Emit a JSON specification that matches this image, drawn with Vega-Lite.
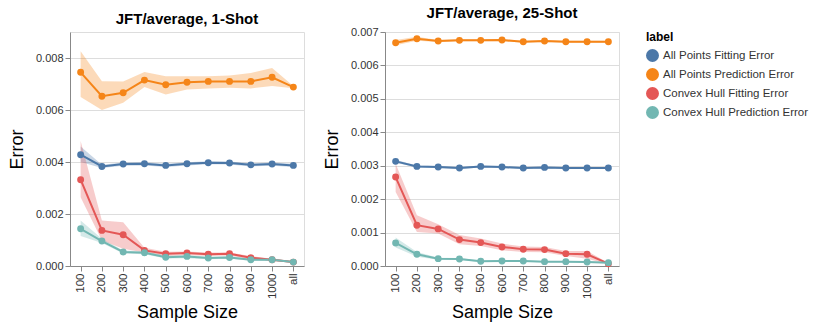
{
  "$schema": "https://vega.github.io/schema/vega-lite/v6.json",
  "padding": {"left": 7, "top": 5, "right": 5, "bottom": 0},
  "datasets": {
    "d": [
      {"panel": "1", "size": "100", "label": "All Points Fitting Error", "v": 0.00428, "lo": 0.00400, "hi": 0.00460},
      {"panel": "1", "size": "200", "label": "All Points Fitting Error", "v": 0.00383, "lo": 0.00377, "hi": 0.00389},
      {"panel": "1", "size": "300", "label": "All Points Fitting Error", "v": 0.00392, "lo": 0.00386, "hi": 0.00398},
      {"panel": "1", "size": "400", "label": "All Points Fitting Error", "v": 0.00393, "lo": 0.00387, "hi": 0.00399},
      {"panel": "1", "size": "500", "label": "All Points Fitting Error", "v": 0.00387, "lo": 0.00381, "hi": 0.00393},
      {"panel": "1", "size": "600", "label": "All Points Fitting Error", "v": 0.00393, "lo": 0.00387, "hi": 0.00399},
      {"panel": "1", "size": "700", "label": "All Points Fitting Error", "v": 0.00397, "lo": 0.00391, "hi": 0.00403},
      {"panel": "1", "size": "800", "label": "All Points Fitting Error", "v": 0.00396, "lo": 0.00390, "hi": 0.00402},
      {"panel": "1", "size": "900", "label": "All Points Fitting Error", "v": 0.00389, "lo": 0.00383, "hi": 0.00395},
      {"panel": "1", "size": "1000", "label": "All Points Fitting Error", "v": 0.00392, "lo": 0.00386, "hi": 0.00398},
      {"panel": "1", "size": "all", "label": "All Points Fitting Error", "v": 0.00387, "lo": 0.00381, "hi": 0.00393},

      {"panel": "1", "size": "100", "label": "All Points Prediction Error", "v": 0.00745, "lo": 0.00650, "hi": 0.00826},
      {"panel": "1", "size": "200", "label": "All Points Prediction Error", "v": 0.00653, "lo": 0.00600, "hi": 0.00711},
      {"panel": "1", "size": "300", "label": "All Points Prediction Error", "v": 0.00666, "lo": 0.00628, "hi": 0.00710},
      {"panel": "1", "size": "400", "label": "All Points Prediction Error", "v": 0.00715, "lo": 0.00688, "hi": 0.00746},
      {"panel": "1", "size": "500", "label": "All Points Prediction Error", "v": 0.00697, "lo": 0.00660, "hi": 0.00730},
      {"panel": "1", "size": "600", "label": "All Points Prediction Error", "v": 0.00707, "lo": 0.00679, "hi": 0.00730},
      {"panel": "1", "size": "700", "label": "All Points Prediction Error", "v": 0.00710, "lo": 0.00683, "hi": 0.00730},
      {"panel": "1", "size": "800", "label": "All Points Prediction Error", "v": 0.00710, "lo": 0.00686, "hi": 0.00733},
      {"panel": "1", "size": "900", "label": "All Points Prediction Error", "v": 0.00710, "lo": 0.00683, "hi": 0.00742},
      {"panel": "1", "size": "1000", "label": "All Points Prediction Error", "v": 0.00726, "lo": 0.00692, "hi": 0.00762},
      {"panel": "1", "size": "all", "label": "All Points Prediction Error", "v": 0.00688, "lo": 0.00684, "hi": 0.00692},

      {"panel": "1", "size": "100", "label": "Convex Hull Fitting Error", "v": 0.00332, "lo": 0.00264, "hi": 0.00481},
      {"panel": "1", "size": "200", "label": "Convex Hull Fitting Error", "v": 0.00137, "lo": 0.00098, "hi": 0.00175},
      {"panel": "1", "size": "300", "label": "Convex Hull Fitting Error", "v": 0.00120, "lo": 0.00066, "hi": 0.00168},
      {"panel": "1", "size": "400", "label": "Convex Hull Fitting Error", "v": 0.00060, "lo": 0.00052, "hi": 0.00070},
      {"panel": "1", "size": "500", "label": "Convex Hull Fitting Error", "v": 0.00047, "lo": 0.00038, "hi": 0.00055},
      {"panel": "1", "size": "600", "label": "Convex Hull Fitting Error", "v": 0.00050, "lo": 0.00042, "hi": 0.00056},
      {"panel": "1", "size": "700", "label": "Convex Hull Fitting Error", "v": 0.00045, "lo": 0.00038, "hi": 0.00052},
      {"panel": "1", "size": "800", "label": "Convex Hull Fitting Error", "v": 0.00047, "lo": 0.00040, "hi": 0.00052},
      {"panel": "1", "size": "900", "label": "Convex Hull Fitting Error", "v": 0.00032, "lo": 0.00025, "hi": 0.00038},
      {"panel": "1", "size": "1000", "label": "Convex Hull Fitting Error", "v": 0.00024, "lo": 0.00020, "hi": 0.00028},
      {"panel": "1", "size": "all", "label": "Convex Hull Fitting Error", "v": 0.00015, "lo": 0.00012, "hi": 0.00018},

      {"panel": "1", "size": "100", "label": "Convex Hull Prediction Error", "v": 0.00143, "lo": 0.00115, "hi": 0.00175},
      {"panel": "1", "size": "200", "label": "Convex Hull Prediction Error", "v": 0.00096, "lo": 0.00088, "hi": 0.00105},
      {"panel": "1", "size": "300", "label": "Convex Hull Prediction Error", "v": 0.00054, "lo": 0.00048, "hi": 0.00060},
      {"panel": "1", "size": "400", "label": "Convex Hull Prediction Error", "v": 0.00051, "lo": 0.00045, "hi": 0.00057},
      {"panel": "1", "size": "500", "label": "Convex Hull Prediction Error", "v": 0.00034, "lo": 0.00029, "hi": 0.00040},
      {"panel": "1", "size": "600", "label": "Convex Hull Prediction Error", "v": 0.00037, "lo": 0.00030, "hi": 0.00042},
      {"panel": "1", "size": "700", "label": "Convex Hull Prediction Error", "v": 0.00031, "lo": 0.00026, "hi": 0.00036},
      {"panel": "1", "size": "800", "label": "Convex Hull Prediction Error", "v": 0.00033, "lo": 0.00028, "hi": 0.00038},
      {"panel": "1", "size": "900", "label": "Convex Hull Prediction Error", "v": 0.00024, "lo": 0.00020, "hi": 0.00028},
      {"panel": "1", "size": "1000", "label": "Convex Hull Prediction Error", "v": 0.00024, "lo": 0.00020, "hi": 0.00028},
      {"panel": "1", "size": "all", "label": "Convex Hull Prediction Error", "v": 0.00015, "lo": 0.00012, "hi": 0.00018},

      {"panel": "25", "size": "100", "label": "All Points Fitting Error", "v": 0.00313, "lo": 0.00309, "hi": 0.00318},
      {"panel": "25", "size": "200", "label": "All Points Fitting Error", "v": 0.00298, "lo": 0.00295, "hi": 0.00301},
      {"panel": "25", "size": "300", "label": "All Points Fitting Error", "v": 0.00296, "lo": 0.00293, "hi": 0.00299},
      {"panel": "25", "size": "400", "label": "All Points Fitting Error", "v": 0.00293, "lo": 0.00290, "hi": 0.00296},
      {"panel": "25", "size": "500", "label": "All Points Fitting Error", "v": 0.00298, "lo": 0.00295, "hi": 0.00301},
      {"panel": "25", "size": "600", "label": "All Points Fitting Error", "v": 0.00296, "lo": 0.00293, "hi": 0.00299},
      {"panel": "25", "size": "700", "label": "All Points Fitting Error", "v": 0.00293, "lo": 0.00290, "hi": 0.00296},
      {"panel": "25", "size": "800", "label": "All Points Fitting Error", "v": 0.00295, "lo": 0.00292, "hi": 0.00298},
      {"panel": "25", "size": "900", "label": "All Points Fitting Error", "v": 0.00293, "lo": 0.00290, "hi": 0.00296},
      {"panel": "25", "size": "1000", "label": "All Points Fitting Error", "v": 0.00293, "lo": 0.00290, "hi": 0.00296},
      {"panel": "25", "size": "all", "label": "All Points Fitting Error", "v": 0.00293, "lo": 0.00290, "hi": 0.00296},

      {"panel": "25", "size": "100", "label": "All Points Prediction Error", "v": 0.00668, "lo": 0.00660, "hi": 0.00676},
      {"panel": "25", "size": "200", "label": "All Points Prediction Error", "v": 0.00680, "lo": 0.00674, "hi": 0.00686},
      {"panel": "25", "size": "300", "label": "All Points Prediction Error", "v": 0.00673, "lo": 0.00670, "hi": 0.00676},
      {"panel": "25", "size": "400", "label": "All Points Prediction Error", "v": 0.00675, "lo": 0.00672, "hi": 0.00678},
      {"panel": "25", "size": "500", "label": "All Points Prediction Error", "v": 0.00675, "lo": 0.00672, "hi": 0.00678},
      {"panel": "25", "size": "600", "label": "All Points Prediction Error", "v": 0.00676, "lo": 0.00673, "hi": 0.00679},
      {"panel": "25", "size": "700", "label": "All Points Prediction Error", "v": 0.00671, "lo": 0.00668, "hi": 0.00674},
      {"panel": "25", "size": "800", "label": "All Points Prediction Error", "v": 0.00673, "lo": 0.00670, "hi": 0.00676},
      {"panel": "25", "size": "900", "label": "All Points Prediction Error", "v": 0.00671, "lo": 0.00668, "hi": 0.00674},
      {"panel": "25", "size": "1000", "label": "All Points Prediction Error", "v": 0.00671, "lo": 0.00668, "hi": 0.00674},
      {"panel": "25", "size": "all", "label": "All Points Prediction Error", "v": 0.00671, "lo": 0.00668, "hi": 0.00674},

      {"panel": "25", "size": "100", "label": "Convex Hull Fitting Error", "v": 0.00266, "lo": 0.00221, "hi": 0.00306},
      {"panel": "25", "size": "200", "label": "Convex Hull Fitting Error", "v": 0.00122, "lo": 0.00102, "hi": 0.00152},
      {"panel": "25", "size": "300", "label": "Convex Hull Fitting Error", "v": 0.00111, "lo": 0.00097, "hi": 0.00125},
      {"panel": "25", "size": "400", "label": "Convex Hull Fitting Error", "v": 0.00079, "lo": 0.00065, "hi": 0.00093},
      {"panel": "25", "size": "500", "label": "Convex Hull Fitting Error", "v": 0.00070, "lo": 0.00060, "hi": 0.00082},
      {"panel": "25", "size": "600", "label": "Convex Hull Fitting Error", "v": 0.00057, "lo": 0.00047, "hi": 0.00067},
      {"panel": "25", "size": "700", "label": "Convex Hull Fitting Error", "v": 0.00050, "lo": 0.00042, "hi": 0.00058},
      {"panel": "25", "size": "800", "label": "Convex Hull Fitting Error", "v": 0.00049, "lo": 0.00041, "hi": 0.00057},
      {"panel": "25", "size": "900", "label": "Convex Hull Fitting Error", "v": 0.00037, "lo": 0.00030, "hi": 0.00045},
      {"panel": "25", "size": "1000", "label": "Convex Hull Fitting Error", "v": 0.00035, "lo": 0.00022, "hi": 0.00045},
      {"panel": "25", "size": "all", "label": "Convex Hull Fitting Error", "v": 0.00007, "lo": 0.00005, "hi": 0.00009},

      {"panel": "25", "size": "100", "label": "Convex Hull Prediction Error", "v": 0.00069, "lo": 0.00055, "hi": 0.00085},
      {"panel": "25", "size": "200", "label": "Convex Hull Prediction Error", "v": 0.00035, "lo": 0.00028, "hi": 0.00042},
      {"panel": "25", "size": "300", "label": "Convex Hull Prediction Error", "v": 0.00022, "lo": 0.00019, "hi": 0.00025},
      {"panel": "25", "size": "400", "label": "Convex Hull Prediction Error", "v": 0.00021, "lo": 0.00018, "hi": 0.00024},
      {"panel": "25", "size": "500", "label": "Convex Hull Prediction Error", "v": 0.00014, "lo": 0.00012, "hi": 0.00016},
      {"panel": "25", "size": "600", "label": "Convex Hull Prediction Error", "v": 0.00015, "lo": 0.00013, "hi": 0.00017},
      {"panel": "25", "size": "700", "label": "Convex Hull Prediction Error", "v": 0.00015, "lo": 0.00013, "hi": 0.00017},
      {"panel": "25", "size": "800", "label": "Convex Hull Prediction Error", "v": 0.00013, "lo": 0.00011, "hi": 0.00015},
      {"panel": "25", "size": "900", "label": "Convex Hull Prediction Error", "v": 0.00013, "lo": 0.00011, "hi": 0.00015},
      {"panel": "25", "size": "1000", "label": "Convex Hull Prediction Error", "v": 0.00012, "lo": 0.00010, "hi": 0.00014},
      {"panel": "25", "size": "all", "label": "Convex Hull Prediction Error", "v": 0.00010, "lo": 0.00008, "hi": 0.00012}
    ]
  },
  "config": {
    "font": "Liberation Sans",
    "axis": {"labelFontSize": 11, "titleFontSize": 18, "titleFontWeight": "normal", "labelColor": "#333", "titleColor": "#000"},
    "axisX": {"labelFontSize": 11.5, "titlePadding": 5},
    "axisY": {"titlePadding": 9},
    "title": {"fontSize": 15, "fontWeight": "bold", "offset": 5},
    "legend": {"titleFontSize": 12, "labelFontSize": 11.5, "symbolType": "circle", "symbolSize": 120, "symbolOpacity": 1, "rowPadding": 0, "labelColor": "#333", "offset": 26},
    "point": {"size": 48, "filled": true, "opacity": 1},
    "line": {"strokeWidth": 2}
  },
  "spacing": 17,
  "hconcat": [
    {
      "title": "JFT/average, 1-Shot",
      "width": 234,
      "height": 234,
      "data": {"name": "d"},
      "transform": [{"filter": "datum.panel == '1'"}],
      "encoding": {
        "x": {"field": "size", "type": "ordinal", "sort": ["100", "200", "300", "400", "500", "600", "700", "800", "900", "1000", "all"], "title": "Sample Size", "axis": {"labelAngle": -90}},
        "color": {"field": "label", "type": "nominal"}
      },
      "layer": [
        {"mark": {"type": "area", "opacity": 0.3}, "encoding": {"y": {"field": "lo", "type": "quantitative", "scale": {"domain": [0, 0.009], "nice": false}, "title": "Error"}, "y2": {"field": "hi"}}},
        {"mark": {"type": "line", "point": true}, "encoding": {"y": {"field": "v", "type": "quantitative"}}}
      ]
    },
    {
      "title": "JFT/average, 25-Shot",
      "width": 234,
      "height": 234,
      "data": {"name": "d"},
      "transform": [{"filter": "datum.panel == '25'"}],
      "encoding": {
        "x": {"field": "size", "type": "ordinal", "sort": ["100", "200", "300", "400", "500", "600", "700", "800", "900", "1000", "all"], "title": "Sample Size", "axis": {"labelAngle": -90}},
        "color": {"field": "label", "type": "nominal"}
      },
      "layer": [
        {"mark": {"type": "area", "opacity": 0.3}, "encoding": {"y": {"field": "lo", "type": "quantitative", "scale": {"domain": [0, 0.007], "nice": false}, "title": "Error"}, "y2": {"field": "hi"}}},
        {"mark": {"type": "line", "point": true}, "encoding": {"y": {"field": "v", "type": "quantitative"}}}
      ]
    }
  ]
}
